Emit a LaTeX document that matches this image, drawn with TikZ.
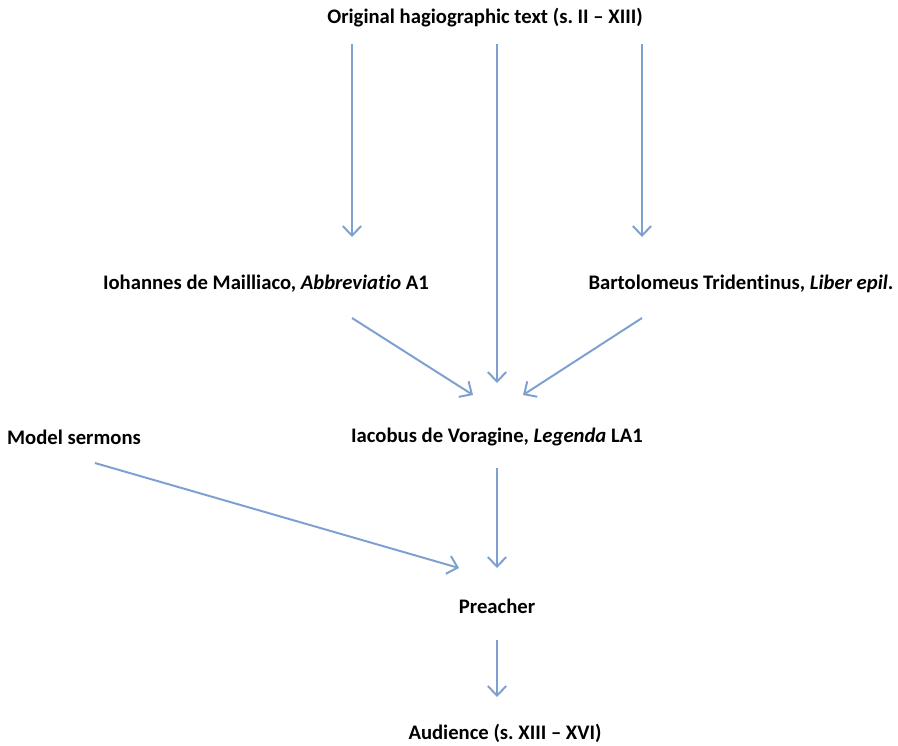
\documentclass[tikz,border=0pt]{standalone}
\usepackage{fontspec}
\setmainfont[Ligatures=NoCommon]{Carlito}
\usepackage{tikz}
\usetikzlibrary{arrows.meta, calc}
\definecolor{flowblue}{RGB}{126, 160, 208}

\begin{document}
\frenchspacing
\begin{tikzpicture}[x=0.025cm, y=-0.025cm,
    lbl/.style={inner sep=0pt, font=\fontsize{14.7}{17}\selectfont\bfseries},
    flow/.style={flowblue, line width=1.4pt, -{Straight Barb[length=2.4mm, width=4.6mm, line width=1.4pt]}}]
        \useasboundingbox (0,0) rectangle (898,745);
        
        % sources
        \node[lbl] (orig) at (485,18) {Original hagiographic text (s. II – XIII)};
        \node[lbl] (mail) at (266,284) {Iohannes de Mailliaco, \textit{Abbreviatio} A1};
        \node[lbl] (bart) at (741,284) {Bartolomeus Tridentinus, \textit{Liber epil}.};
        \node[lbl] (model) at (74,437) {Model sermons};
        \node[lbl] (iac) at (497,437) {Iacobus de Voragine, \textit{Legenda} LA1};
        \node[lbl] (preach) at (497,606) {Preacher};
        \node[lbl] (aud) at (505,733) {Audience (s. XIII – XVI)};
        
        % transmission
        \draw[flow] ($(orig)+(-133,26)$) -- ($(mail)+(86,-47)$);
        \draw[flow] ($(orig)+(12,26)$) -- ($(iac)+(0,-54)$);
        \draw[flow] ($(orig)+(157,26)$) -- ($(bart)+(-99,-47)$);
        \draw[flow] ($(mail)+(86,34)$) -- ($(iac)+(-24,-42)$);
        \draw[flow] ($(bart)+(-99,34)$) -- ($(iac)+(26,-42)$);
        
        % preaching
        \draw[flow] ($(model)+(21,26)$) -- ($(preach)+(-38,-38)$);
        \draw[flow] ($(iac)+(0,31)$) -- ($(preach)+(0,-38)$);
        \draw[flow] ($(preach)+(0,34)$) -- ($(aud)+(-8,-36)$);
    \end{tikzpicture}
\end{document}
